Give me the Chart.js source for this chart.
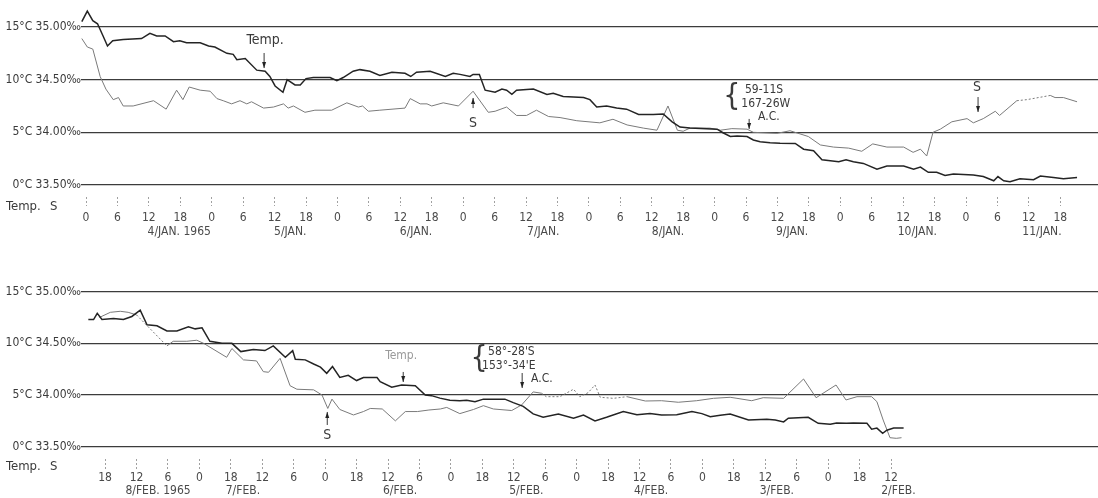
<!DOCTYPE html>
<html>
<head>
<meta charset="utf-8">
<script src="https://cdn.jsdelivr.net/npm/chart.js@4.4.1/dist/chart.umd.min.js"></script>
<style>
    html, body { margin: 0; padding: 0; background: #fff; }
    #wrap { position: relative; width: 1098px; height: 498px; overflow: hidden; }
    .panel { position: absolute; left: 0; width: 1098px; }
</style>
</head>
<body>
<div id="wrap">
    <div class="panel" style="top:0;height:250px"><canvas id="jan"></canvas></div>
    <div class="panel" style="top:250px;height:248px"><canvas id="feb"></canvas></div>
</div>
<script>
// ---- January run: hours counted from 4/JAN 1965 00h ----
const janTempHours = [-0.8, 0.25, 1.3, 2.2, 3.3, 4.1, 5.1, 7.1, 10.6, 12.2, 13.5, 15.1, 16.7, 17.9, 19.2, 21.8, 23.4, 24.6, 26.9, 28.1,
    28.8, 30.4, 32.6, 34.2, 35.1, 36.1, 37.6, 38.4, 39.9, 40.9, 42.0, 43.4, 46.6, 47.9, 49.1, 51.0, 52.3, 54.2, 56.1, 58.4,
    60.9, 62.0, 63.1, 65.7, 68.6, 70.1, 71.4, 73.3, 73.9, 75.1, 76.2, 78.1, 79.4, 80.3, 81.3, 82.2, 85.4, 88.0, 89.2, 91.1,
    95.0, 96.2, 97.5, 99.4, 101.3, 103.2, 105.5, 108.3, 110.2, 111.9, 113.4, 115.3, 120.5, 121.6, 123.0, 124.3, 126.2, 127.4, 128.7, 130.6,
    132.5, 135.4, 137.0, 138.9, 140.5, 142.1, 143.7, 145.1, 146.5, 148.4, 151.0, 152.9, 156.1, 158.0, 159.3, 160.8, 162.4, 164.0, 165.6, 169.4,
    171.3, 173.3, 174.1, 175.2, 176.4, 178.3, 180.9, 182.2, 184.7, 186.6, 189.2];
const janTemp = [15.5, 16.5, 15.6, 15.3, 14.1, 13.2, 13.7, 13.8, 13.9, 14.4, 14.15, 14.15, 13.6, 13.7, 13.5, 13.5, 13.2, 13.1, 12.5, 12.4,
    11.9, 12.0, 10.9, 10.8, 10.3, 9.4, 8.8, 10.0, 9.5, 9.5, 10.1, 10.2, 10.2, 9.9, 10.2, 10.8, 10.95, 10.8, 10.4, 10.7,
    10.6, 10.3, 10.7, 10.8, 10.3, 10.6, 10.5, 10.3, 10.5, 10.5, 9.0, 8.8, 9.1, 9.0, 8.6, 9.0, 9.1, 8.6, 8.7, 8.4,
    8.3, 8.1, 7.4, 7.5, 7.3, 7.2, 6.7, 6.7, 6.74, 6.0, 5.5, 5.4, 5.3, 4.96, 4.6, 4.65, 4.6, 4.27, 4.1, 4.0,
    3.96, 3.95, 3.4, 3.25, 2.4, 2.3, 2.2, 2.4, 2.2, 2.05, 1.5, 1.8, 1.8, 1.5, 1.7, 1.2, 1.2, 0.9, 1.05, 0.95,
    0.8, 0.4, 0.8, 0.4, 0.3, 0.6, 0.5, 0.85, 0.7, 0.6, 0.7];
const janSalHours = [-0.8, 0.25, 1.3, 2.7, 3.8, 5.2, 6.2, 7.1, 9.0, 12.9, 15.3, 17.3, 18.5, 19.7, 21.8, 23.7, 25.0, 26.2, 27.8, 29.4,
    30.7, 31.6, 33.9, 35.8, 37.7, 38.6, 39.6, 41.8, 43.7, 46.9, 49.8, 52.0, 52.8, 53.9, 56.1, 60.9, 61.9, 63.8, 65.1, 66.0,
    68.2, 71.1, 73.9, 76.8, 78.1, 80.3, 82.2, 84.1, 86.0, 88.3, 90.5, 93.7, 98.1, 100.6, 103.3, 106.4, 109.0, 111.1, 112.9, 114.0,
    115.3, 119.1, 121.1, 123.3, 126.2, 127.4, 131.9, 134.4, 137.9, 140.2, 142.7, 145.6, 148.1, 150.2, 152.9, 156.1, 157.9, 159.3, 160.5, 161.7,
    163.1, 165.3, 168.2, 169.4, 171.3, 173.6, 174.4, 177.7, 179.6, 184.1, 185.0, 186.6, 189.2];
const janSal = [34.89, 34.81, 34.79, 34.53, 34.41, 34.31, 34.33, 34.25, 34.25, 34.30, 34.22, 34.40, 34.31, 34.43, 34.40, 34.39, 34.32, 34.30, 34.27, 34.30,
    34.27, 34.29, 34.23, 34.24, 34.27, 34.23, 34.25, 34.19, 34.21, 34.21, 34.28, 34.24, 34.25, 34.20, 34.21, 34.23, 34.32, 34.27, 34.27, 34.25,
    34.28, 34.25, 34.39, 34.19, 34.20, 34.24, 34.16, 34.16, 34.21, 34.15, 34.14, 34.11, 34.09, 34.124, 34.07, 34.04, 34.02, 34.25, 34.02, 34.01,
    34.04, 34.04, 34.02, 34.035, 34.03, 34.00, 33.99, 34.015, 33.96, 33.88, 33.86, 33.85, 33.82, 33.89, 33.86, 33.86, 33.81, 33.84, 33.775, 34.00,
    34.03, 34.10, 34.13, 34.09, 34.13, 34.20, 34.16, 34.30, 34.31, 34.35, 34.33, 34.33, 34.29];
const janDateLabels = ['4/JAN. 1965', '5/JAN.', '6/JAN.', '7/JAN.', '8/JAN.', '9/JAN.', '10/JAN.', '11/JAN.'];
const janDateAt = [17.8, 39, 63, 87.3, 111.1, 134.8, 158.7, 182.5];
const janDashed = [[177.7, 184.1]];

// ---- February run: hours counted from 2/FEB 1965 00h (time runs right to left) ----
const febTempHours = [165.2, 164.2, 163.5, 162.6, 160.4, 158.5, 156.9, 155.3, 154.0, 152.1, 150.2, 148.3, 146.1, 144.8, 143.5, 142.0, 139.7, 137.8, 136.1, 133.7,
    131.5, 129.9, 127.6, 126.2, 125.7, 123.8, 122.2, 120.9, 119.7, 118.6, 117.2, 115.6, 114.0, 112.7, 110.1, 109.5, 107.3, 105.4, 102.8, 100.9,
    99.7, 98.1, 96.2, 94.3, 93.0, 91.4, 89.8, 85.7, 84.1, 82.2, 80.3, 78.4, 75.5, 72.6, 70.7, 68.5, 66.3, 63.1, 60.5, 58.0,
    55.8, 52.9, 50.0, 48.1, 46.5, 44.6, 42.7, 39.2, 35.7, 34.1, 32.5, 31.6, 27.8, 25.9, 23.6, 22.4, 20.5, 19.2, 16.6, 15.7,
    14.7, 13.6, 12.8, 11.5, 9.6];
const febTemp = [12.3, 12.3, 12.9, 12.3, 12.4, 12.3, 12.6, 13.2, 11.8, 11.7, 11.2, 11.2, 11.6, 11.4, 11.5, 10.2, 10.0, 10.0, 9.2, 9.4,
    9.3, 9.75, 8.65, 9.3, 8.46, 8.4, 8.0, 7.7, 7.1, 7.75, 6.7, 6.9, 6.4, 6.7, 6.7, 6.3, 5.75, 5.97, 5.9, 5.0,
    4.94, 4.7, 4.5, 4.45, 4.5, 4.36, 4.6, 4.6, 4.26, 3.9, 3.17, 2.85, 3.17, 2.75, 3.07, 2.5, 2.85, 3.4, 3.1, 3.2,
    3.07, 3.1, 3.4, 3.2, 2.9, 3.05, 3.17, 2.58, 2.65, 2.58, 2.4, 2.75, 2.85, 2.26, 2.17, 2.3, 2.26, 2.3, 2.26, 1.7,
    1.8, 1.3, 1.6, 1.8, 1.8];
const febSalHours = [163.1, 161.0, 159.1, 157.6, 156.0, 150.2, 149.0, 146.4, 144.5, 143.2, 138.8, 137.8, 135.6, 133.1, 131.8, 130.8, 128.6, 126.7, 125.4, 122.2,
    120.6, 119.5, 118.7, 117.2, 114.6, 112.7, 111.4, 109.1, 106.6, 104.7, 102.4, 100.2, 98.0, 96.8, 94.3, 91.7, 89.8, 87.9, 84.4, 82.5,
    80.3, 78.7, 77.8, 75.2, 72.6, 71.4, 69.8, 68.5, 67.5, 65.0, 62.4, 58.9, 55.8, 52.6, 49.1, 45.9, 42.7, 41.4, 38.6, 36.4,
    32.5, 28.7, 26.3, 22.5, 20.6, 18.5, 15.7, 14.7, 13.5, 12.2, 11.0, 10.0];
const febSal = [34.75, 34.80, 34.81, 34.80, 34.775, 34.475, 34.52, 34.52, 34.53, 34.50, 34.365, 34.45, 34.34, 34.33, 34.226, 34.22, 34.355, 34.09, 34.056, 34.05,
    34.00, 33.87, 33.96, 33.86, 33.807, 33.84, 33.87, 33.865, 33.75, 33.84, 33.84, 33.855, 33.865, 33.88, 33.82, 33.86, 33.897, 33.865, 33.85, 33.904,
    34.03, 34.017, 33.984, 33.984, 34.056, 33.984, 34.023, 34.097, 33.978, 33.968, 33.984, 33.942, 33.945, 33.93, 33.945, 33.968, 33.978, 33.968, 33.945, 33.974,
    33.968, 34.155, 33.974, 34.097, 33.952, 33.984, 33.984, 33.936, 33.758, 33.587, 33.581, 33.587];
const febDateLabels = ['8/FEB. 1965', '7/FEB.', '6/FEB.', '5/FEB.', '4/FEB.', '3/FEB.', '2/FEB.'];
const febDateAt = [151.9, 135.7, 105.7, 81.6, 57.8, 33.8, 10.6];
const febDashed = [[150.2, 156.0], [62.4, 78.7]];

const gridTemps = [0, 5, 10, 15];
const gridLabels = { 0: '0°C 33.50‰', 5: '5°C 34.00‰', 10: '10°C 34.50‰', 15: '15°C 35.00‰' };

const janNotes = [
    { kind: 'text', x: 34.2, y: 13.72, text: 'Temp.', size: 14 },
    { kind: 'arrow', x: 34.0, y1: 12.53, y2: 11.1 },
    { kind: 'text', x: 73.9, y: 5.89, text: 'S', size: 14 },
    { kind: 'arrow', x: 73.9, y1: 7.3, y2: 8.26 },
    { kind: 'text', x: 123.3, y: 8.35, text: '{', size: 30 },
    { kind: 'text', x: 125.8, y: 9.0, text: '59-11S', align: 'left' },
    { kind: 'text', x: 125.1, y: 7.69, text: '167-26W', align: 'left' },
    { kind: 'arrow', x: 126.6, y1: 6.27, y2: 5.32 },
    { kind: 'text', x: 128.3, y: 6.46, text: 'A.C.', align: 'left' },
    { kind: 'text', x: 170.1, y: 9.3, text: 'S', size: 14 },
    { kind: 'arrow', x: 170.3, y1: 8.35, y2: 6.93 },
];
const febNotes = [
    { kind: 'text', x: 105.5, y: 8.78, text: 'Temp.', color: '#9a9a9a' },
    { kind: 'arrow', x: 105.1, y1: 7.23, y2: 6.26 },
    { kind: 'text', x: 90.6, y: 8.49, text: '{', size: 30 },
    { kind: 'text', x: 88.9, y: 9.19, text: "58°-28'S", align: 'left' },
    { kind: 'text', x: 90.05, y: 7.81, text: "153°-34'E", align: 'left' },
    { kind: 'arrow', x: 82.4, y1: 7.13, y2: 5.68 },
    { kind: 'text', x: 80.7, y: 6.55, text: 'A.C.', align: 'left' },
    { kind: 'text', x: 119.6, y: 1.13, text: 'S', size: 14 },
    { kind: 'arrow', x: 119.6, y1: 2.1, y2: 3.36 },
];

const FONT = "'Liberation Sans Narrow', 'DejaVu Sans Condensed', 'Roboto Condensed', sans-serif";
Chart.defaults.font.family = FONT;
Chart.defaults.color = '#3a3a3a';

function points(xs, ys) {
    return xs.map((x, i) => ({ x: x, y: ys[i] }));
}

function dashedIn(ranges) {
    return ctx => {
        const a = Math.min(ctx.p0.parsed.x, ctx.p1.parsed.x);
        const b = Math.max(ctx.p0.parsed.x, ctx.p1.parsed.x);
        return ranges.some(r => a >= r[0] - 0.01 && b <= r[1] + 0.01) ? [2, 2] : undefined;
    };
}

// draws the written notes, arrows and the "Temp.  S" header
const notesPlugin = {
    id: 'notes',
    afterDatasetsDraw(chart, args, opts) {
        const ctx = chart.ctx;
        const xs = chart.scales.x;
        const ys = chart.scales.y;
        ctx.save();
        ctx.fillStyle = '#3a3a3a';
        ctx.strokeStyle = '#3a3a3a';
        ctx.textBaseline = 'middle';
        ctx.font = '13px ' + FONT;
        ctx.textAlign = 'left';
        ctx.fillText('Temp.', 6, chart.chartArea.bottom + opts.headerDy);
        ctx.fillText('S', 50, chart.chartArea.bottom + opts.headerDy);
        opts.items.forEach(n => {
            const px = xs.getPixelForValue(n.x);
            if (n.kind === 'text') {
                ctx.font = (n.size || 12) + 'px ' + FONT;
                ctx.fillStyle = n.color || '#3a3a3a';
                ctx.textAlign = n.align || 'center';
                ctx.fillText(n.text, px, ys.getPixelForValue(n.y));
            } else {
                const y1 = ys.getPixelForValue(n.y1);
                const y2 = ys.getPixelForValue(n.y2);
                const dir = y2 > y1 ? 1 : -1;
                ctx.lineWidth = 1;
                ctx.beginPath();
                ctx.moveTo(px, y1);
                ctx.lineTo(px, y2);
                ctx.stroke();
                ctx.fillStyle = '#222';
                ctx.beginPath();
                ctx.moveTo(px, y2);
                ctx.lineTo(px - 2, y2 - dir * 6);
                ctx.lineTo(px + 2, y2 - dir * 6);
                ctx.closePath();
                ctx.fill();
            }
        });
        ctx.restore();
    }
};

function makePanel(id, p) {
    const hourTicks = [];
    for (let v = p.firstTick; v <= p.lastTick; v += 6) hourTicks.push(v);
    const xCommon = { type: 'linear', min: p.xMin, max: p.xMax, reverse: p.reverse, position: 'bottom' };
    return new Chart(document.getElementById(id), {
        type: 'line',
        data: {
            datasets: [
                {
                    label: 'Temp',
                    data: points(p.tempHours, p.temp),
                    yAxisID: 'y',
                    borderColor: '#242424',
                    borderWidth: 1.5,
                    pointRadius: 0,
                },
                {
                    label: 'S',
                    data: points(p.salHours, p.sal),
                    yAxisID: 'yS',
                    borderColor: '#7a7a7a',
                    borderWidth: 1,
                    pointRadius: 0,
                    segment: { borderDash: dashedIn(p.dashed) },
                },
            ],
        },
        options: {
            responsive: true,
            maintainAspectRatio: false,
            animation: false,
            layout: { padding: 0 },
            plugins: {
                legend: { display: false },
                tooltip: { enabled: false },
                notes: { items: p.notes, headerDy: p.headerDy },
            },
            scales: {
                x: Object.assign({}, xCommon, {
                    weight: 0,
                    afterBuildTicks: ax => { ax.ticks = hourTicks.map(v => ({ value: v })); },
                    afterFit: s => { s.height = p.hourAxisH; },
                    ticks: {
                        autoSkip: false,
                        maxRotation: 0,
                        padding: p.hourPad,
                        color: '#4a4a4a',
                        font: { size: 12 },
                        callback: v => String(((v % 24) + 24) % 24),
                    },
                    grid: { drawOnChartArea: false, tickLength: p.tickLen, color: '#a0a0a0', tickBorderDash: [2, 2] },
                    border: { display: false },
                }),
                xDate: Object.assign({}, xCommon, {
                    weight: 1,
                    afterBuildTicks: ax => { ax.ticks = p.dateAt.map(v => ({ value: v })); },
                    afterFit: s => { s.height = p.dateAxisH; },
                    ticks: {
                        autoSkip: false,
                        maxRotation: 0,
                        padding: 0,
                        color: '#4a4a4a',
                        font: { size: 12 },
                        callback: (v, i) => p.dateLabels[i],
                    },
                    grid: { display: false, drawTicks: false },
                    border: { display: false },
                }),
                y: {
                    min: p.yMin,
                    max: p.yMax,
                    afterBuildTicks: ax => { ax.ticks = gridTemps.map(v => ({ value: v })); },
                    afterFit: s => { s.width = 81; s.paddingTop = 0; s.paddingBottom = 0; },
                    ticks: { padding: 0, color: '#3a3a3a', font: { size: 12 }, callback: v => gridLabels[v] },
                    grid: { color: '#3c3c3c', lineWidth: 1.3, drawTicks: false },
                    border: { display: false },
                },
                yS: {
                    display: false,
                    min: 33.5 + p.yMin / 10,
                    max: 33.5 + p.yMax / 10,
                },
            },
        },
        plugins: [notesPlugin],
    });
}

// top panel: 0 h at x=86, 5.237 px per hour; 0°C at y=185, 10.533 px per °C
makePanel('jan', {
    tempHours: janTempHours, temp: janTemp, salHours: janSalHours, sal: janSal,
    dateLabels: janDateLabels, dateAt: janDateAt, dashed: janDashed, notes: janNotes,
    firstTick: 0, lastTick: 186, reverse: false,
    xMin: -0.955, xMax: 193.2, yMin: -1.14, yMax: 17.56,
    hourAxisH: 28, dateAxisH: 25, tickLen: 9, hourPad: 5, headerDy: 10,
});

// bottom panel: reversed time, 8/FEB 18h at x=105, 5.24 px per hour
makePanel('feb', {
    tempHours: febTempHours, temp: febTemp, salHours: febSalHours, sal: febSal,
    dateLabels: febDateLabels, dateAt: febDateAt, dashed: febDashed, notes: febNotes,
    firstTick: 12, lastTick: 162, reverse: true,
    xMin: -27.5, xMax: 166.6, yMin: -1.19, yMax: 19.03,
    hourAxisH: 25, dateAxisH: 14, tickLen: 10, hourPad: 2, headerDy: 8,
});
</script>
</body>
</html>
